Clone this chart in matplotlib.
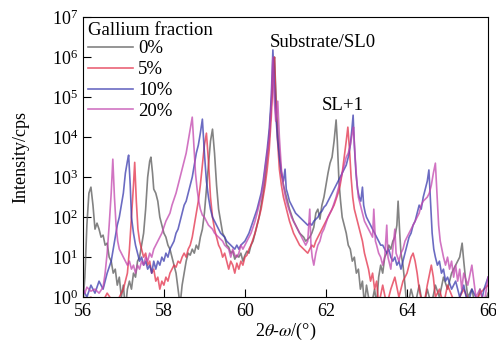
import matplotlib
matplotlib.use("Agg")
import matplotlib.pyplot as plt
import numpy as np

plt.rcParams['font.family'] = ['Liberation Serif', 'DejaVu Serif']
plt.rcParams['mathtext.fontset'] = 'stix'

# 2theta positions and log10(intensity), one pair of lists per sample
x0 = [56.00, 56.05, 56.10, 56.15, 56.20, 56.25, 56.30, 56.35, 56.40, 56.45, 56.50, 56.55, 56.60, 56.65, 56.70,
      56.75, 56.80, 56.85, 56.90, 56.95, 57.00, 57.05, 57.10, 57.15, 57.20, 57.25, 57.30, 57.35, 57.40, 57.45,
      57.50, 57.55, 57.60, 57.65, 57.68, 57.72, 57.75, 57.80, 57.85, 57.90, 57.95, 58.00, 58.05, 58.10, 58.15,
      58.20, 58.25, 58.30, 58.35, 58.40, 58.45, 58.50, 58.55, 58.60, 58.65, 58.70, 58.75, 58.80, 58.85, 58.90,
      58.95, 59.00, 59.05, 59.10, 59.15, 59.20, 59.25, 59.30, 59.35, 59.40, 59.45, 59.50, 59.55, 59.60, 59.65,
      59.70, 59.75, 59.80, 59.85, 59.90, 59.95, 60.00, 60.05, 60.10, 60.15, 60.20, 60.25, 60.30, 60.35, 60.40,
      60.45, 60.50, 60.55, 60.60, 60.65, 60.70, 60.73, 60.76, 60.80, 60.85, 60.90, 60.95, 61.00, 61.05, 61.10,
      61.15, 61.20, 61.25, 61.30, 61.35, 61.40, 61.45, 61.50, 61.55, 61.60, 61.65, 61.70, 61.75, 61.80, 61.85,
      61.90, 61.95, 62.00, 62.05, 62.10, 62.15, 62.20, 62.25, 62.28, 62.32, 62.36, 62.40, 62.45, 62.50, 62.55,
      62.60, 62.65, 62.70, 62.75, 62.80, 62.85, 62.90, 62.95, 63.00, 63.05, 63.10, 63.20, 63.25, 63.30, 63.35,
      63.40, 63.45, 63.50, 63.55, 63.60, 63.65, 63.70, 63.75, 63.78, 63.82, 63.85, 63.90, 63.95, 64.00, 64.10,
      64.20, 64.30, 64.40, 64.50, 64.60, 64.70, 64.80, 64.90, 65.00, 65.10, 65.20, 65.30, 65.36, 65.40, 65.45,
      65.50, 65.60, 65.70, 65.80, 65.90, 66.00]
y0 = [-0.2, 0.5, 1.8, 2.6, 2.75, 2.3, 1.7, 1.85, 1.7, 1.5, 1.55, 1.3, 1.35, 1.0, 0.9,
      0.6, 0.7, 0.3, 0.5, 0.0, 0.3, -0.3, 0.2, 0.4, 0.2, 0.6, 0.5, 0.9, 1.0, 1.3,
      1.6, 2.2, 3.0, 3.4, 3.5, 3.1, 2.7, 2.6, 2.4, 2.0, 1.8, 1.6, 1.5, 1.3, 1.2,
      1.0, 0.8, 0.6, 0.2, -0.2, 0.3, 0.6, 0.9, 1.1, 1.05, 1.2, 1.1, 1.3, 1.2, 1.5,
      1.7, 2.1, 2.7, 3.3, 3.9, 4.2, 3.6, 2.8, 2.2, 1.9, 1.6, 1.5, 1.3, 1.25, 1.1,
      1.15, 0.95, 1.05, 1.0, 1.1, 0.9, 1.05, 1.15, 1.1, 1.3, 1.4, 1.6, 1.8, 2.0, 2.3,
      2.6, 3.0, 3.5, 4.0, 4.8, 5.8, 6.0, 5.2, 4.3, 3.6, 3.1, 2.8, 2.6, 2.4, 2.2,
      2.05, 1.9, 1.8, 1.7, 1.6, 1.55, 1.5, 1.4, 1.45, 1.5, 1.6, 1.75, 2.1, 2.2, 1.95,
      2.3, 2.5, 2.8, 3.1, 3.35, 3.5, 3.9, 4.43, 3.9, 2.9, 2.4, 2.0, 1.8, 1.6, 1.3,
      1.2, 0.9, 1.0, 0.6, 0.7, 0.2, 0.4, -0.2, 0.3, 0.0, -0.3, 0.2, -0.2, 0.5, 0.8,
      0.6, 1.0, 1.1, 1.3, 1.2, 1.4, 1.5, 1.8, 2.4, 1.6, 1.1, 0.8, 0.3, -0.3, 0.2,
      -0.2, 0.3, -0.3, 0.2, -0.2, 0.3, 0.0, 0.5, 0.2, 0.6, 0.8, 1.0, 1.35, 0.9, 0.4,
      0.0, 0.2, -0.3, 0.2, -0.2, 0.1]

x5 = [56.00, 56.20, 56.40, 56.60, 56.80, 57.00, 57.10, 57.15, 57.20, 57.25, 57.28, 57.32, 57.36, 57.40, 57.45,
      57.50, 57.55, 57.60, 57.65, 57.70, 57.75, 57.80, 57.85, 57.90, 57.95, 58.00, 58.05, 58.10, 58.15, 58.20,
      58.25, 58.30, 58.35, 58.40, 58.45, 58.50, 58.55, 58.60, 58.65, 58.70, 58.75, 58.80, 58.85, 58.90, 58.95,
      59.00, 59.05, 59.10, 59.15, 59.20, 59.25, 59.30, 59.35, 59.40, 59.45, 59.50, 59.55, 59.60, 59.65, 59.70,
      59.75, 59.80, 59.85, 59.90, 59.95, 60.00, 60.05, 60.10, 60.15, 60.20, 60.25, 60.30, 60.35, 60.40, 60.45,
      60.50, 60.55, 60.60, 60.65, 60.70, 60.73, 60.76, 60.80, 60.85, 60.90, 60.95, 61.00, 61.05, 61.10, 61.15,
      61.20, 61.25, 61.30, 61.35, 61.40, 61.45, 61.50, 61.55, 61.60, 61.65, 61.70, 61.75, 61.80, 61.85, 61.90,
      61.95, 62.00, 62.05, 62.10, 62.15, 62.20, 62.25, 62.30, 62.35, 62.40, 62.45, 62.50, 62.54, 62.58, 62.62,
      62.66, 62.70, 62.75, 62.80, 62.85, 62.90, 62.95, 63.00, 63.05, 63.10, 63.15, 63.20, 63.25, 63.30, 63.40,
      63.50, 63.60, 63.70, 63.80, 63.90, 64.00, 64.05, 64.10, 64.15, 64.20, 64.25, 64.30, 64.40, 64.50, 64.60,
      64.65, 64.70, 64.80, 64.90, 65.00, 65.20, 65.40, 65.60, 65.80, 66.00]
y5 = [-0.2, 0.0, -0.3, 0.1, -0.2, 0.2, 0.6, 1.2, 2.0, 2.8, 3.37, 2.4, 1.7, 1.4, 1.2,
      1.0, 1.1, 0.8, 0.9, 0.6, 0.7, 0.4, 0.5, 0.2, 0.4, 0.3, 0.5, 0.4, 0.6, 0.7,
      0.8, 0.75, 0.9, 0.85, 1.0, 1.1, 1.0, 1.2, 1.3, 1.5, 1.8, 2.1, 2.4, 2.8, 3.3,
      3.8, 4.1, 3.4, 2.5, 2.0, 1.7, 1.5, 1.3, 1.2, 1.0, 1.1, 0.9, 0.7, 0.9, 0.8,
      0.6, 0.85, 0.7, 0.9, 0.8, 1.0, 1.05, 1.2, 1.3, 1.45, 1.6, 1.8, 2.0, 2.2, 2.5,
      2.8, 3.2, 3.7, 4.5, 5.6, 6.0, 5.0, 4.0, 3.2, 2.8, 2.5, 2.3, 2.1, 1.9, 1.75,
      1.6, 1.5, 1.4, 1.3, 1.25, 1.2, 1.15, 1.1, 1.2, 1.3, 1.25, 1.4, 1.5, 1.6, 1.7,
      1.8, 1.9, 2.0, 2.1, 2.2, 2.3, 2.45, 2.6, 2.8, 3.1, 3.5, 3.9, 4.25, 3.7, 3.0,
      2.5, 2.2, 2.0, 1.8, 1.6, 1.4, 1.1, 0.9, 0.7, 0.4, 0.6, 0.2, 0.4, -0.2, 0.3,
      -0.2, 0.2, 0.5, 0.0, 0.4, 0.6, 0.8, 1.0, 1.1, 0.9, 0.6, 0.2, -0.3, 0.3, 0.8,
      0.5, 0.0, 0.2, -0.2, 0.3, -0.2, 0.2, -0.3, 0.1, 0.3]

x10 = [56.00, 56.10, 56.20, 56.30, 56.40, 56.50, 56.60, 56.70, 56.75, 56.80, 56.85, 56.90, 56.95, 57.00, 57.05,
       57.10, 57.13, 57.17, 57.20, 57.25, 57.30, 57.35, 57.40, 57.45, 57.50, 57.55, 57.60, 57.65, 57.70, 57.75,
       57.80, 57.85, 57.90, 57.95, 58.00, 58.05, 58.10, 58.15, 58.20, 58.25, 58.30, 58.35, 58.40, 58.45, 58.50,
       58.55, 58.60, 58.65, 58.70, 58.75, 58.80, 58.85, 58.90, 58.95, 59.00, 59.05, 59.10, 59.15, 59.20, 59.25,
       59.30, 59.35, 59.40, 59.45, 59.50, 59.55, 59.60, 59.65, 59.70, 59.75, 59.80, 59.85, 59.90, 59.95, 60.00,
       60.05, 60.10, 60.15, 60.20, 60.25, 60.30, 60.35, 60.40, 60.45, 60.50, 60.55, 60.60, 60.65, 60.69, 60.72,
       60.76, 60.80, 60.85, 60.90, 60.95, 60.99, 61.02, 61.05, 61.10, 61.15, 61.20, 61.25, 61.30, 61.35, 61.40,
       61.45, 61.50, 61.55, 61.60, 61.65, 61.70, 61.75, 61.80, 61.85, 61.90, 61.95, 62.00, 62.05, 62.10, 62.15,
       62.20, 62.25, 62.30, 62.35, 62.40, 62.45, 62.50, 62.55, 62.60, 62.64, 62.67, 62.70, 62.74, 62.78, 62.82,
       62.86, 62.90, 62.93, 62.97, 63.00, 63.05, 63.10, 63.15, 63.20, 63.25, 63.30, 63.35, 63.40, 63.45, 63.50,
       63.55, 63.60, 63.65, 63.70, 63.75, 63.80, 63.85, 63.90, 63.95, 64.00, 64.05, 64.10, 64.15, 64.20, 64.25,
       64.30, 64.35, 64.40, 64.45, 64.50, 64.54, 64.58, 64.62, 64.66, 64.70, 64.75, 64.80, 64.85, 64.90, 64.95,
       65.00, 65.10, 65.20, 65.30, 65.40, 65.50, 65.60, 65.70, 65.80, 65.90, 66.00]
y10 = [0.2, 0.0, 0.3, 0.1, 0.4, 0.2, 0.6, 0.9, 1.2, 1.5, 1.8, 2.0, 2.3, 2.6, 3.1,
       3.4, 3.55, 2.8, 2.0, 1.6, 1.3, 1.1, 0.9, 1.0, 0.8, 0.9, 0.7, 0.8, 0.6, 0.9,
       0.7, 0.9, 0.8, 1.0, 0.9, 1.1, 1.0, 1.2, 1.3, 1.4, 1.6, 1.7, 1.9, 2.1, 2.3,
       2.4, 2.6, 2.8, 3.0, 3.3, 3.6, 3.8, 4.1, 4.45, 3.6, 2.9, 2.5, 2.2, 2.0, 1.9,
       1.8, 1.7, 1.6, 1.55, 1.5, 1.4, 1.35, 1.3, 1.25, 1.2, 1.3, 1.2, 1.3, 1.35, 1.4,
       1.5, 1.6, 1.75, 1.9, 2.05, 2.2, 2.4, 2.6, 2.9, 3.3, 3.7, 4.2, 5.0, 6.18, 5.4,
       4.6, 4.0, 3.5, 3.1, 2.9, 3.2, 2.7, 2.6, 2.4, 2.3, 2.2, 2.1, 2.05, 2.0, 1.95,
       1.9, 1.85, 1.8, 1.85, 1.8, 1.9, 1.95, 2.0, 2.1, 2.15, 2.25, 2.3, 2.4, 2.5, 2.6,
       2.7, 2.8, 2.9, 3.0, 3.1, 3.2, 3.3, 3.5, 3.8, 4.2, 4.55, 3.8, 3.1, 2.7, 2.5,
       2.4, 2.75, 2.3, 2.1, 2.0, 1.9, 1.8, 1.7, 1.6, 1.5, 1.4, 1.3, 1.3, 1.2, 1.1,
       1.2, 1.0, 0.9, 1.0, 0.8, 0.9, 0.7, 0.9, 1.1, 1.3, 1.5, 1.6, 1.8, 1.9, 2.1,
       2.3, 2.2, 2.5, 2.7, 2.9, 3.18, 2.4, 1.6, 1.2, 1.0, 0.8, 0.9, 0.6, 0.7, 0.4,
       0.5, 0.2, 0.4, 0.0, 0.3, -0.2, 0.2, 0.0, -0.3, 0.2, 0.5]

x20 = [56.00, 56.05, 56.10, 56.20, 56.30, 56.40, 56.50, 56.55, 56.60, 56.65, 56.70, 56.74, 56.78, 56.82, 56.86,
       56.90, 56.95, 57.00, 57.05, 57.10, 57.15, 57.20, 57.25, 57.30, 57.35, 57.40, 57.45, 57.50, 57.55, 57.60,
       57.65, 57.70, 57.75, 57.80, 57.85, 57.90, 57.95, 58.00, 58.05, 58.10, 58.15, 58.20, 58.25, 58.30, 58.35,
       58.40, 58.45, 58.50, 58.55, 58.60, 58.65, 58.70, 58.74, 58.78, 58.82, 58.86, 58.90, 58.95, 59.00, 59.05,
       59.10, 59.15, 59.20, 59.25, 59.30, 59.35, 59.40, 59.45, 59.50, 59.55, 59.60, 59.65, 59.70, 59.75, 59.80,
       59.85, 59.90, 59.95, 60.00, 60.05, 60.10, 60.15, 60.20, 60.25, 60.30, 60.35, 60.40, 60.45, 60.50, 60.55,
       60.60, 60.65, 60.69, 60.72, 60.76, 60.81, 60.85, 60.90, 60.95, 61.00, 61.05, 61.10, 61.15, 61.20, 61.25,
       61.30, 61.35, 61.40, 61.45, 61.50, 61.55, 61.60, 61.63, 61.66, 61.70, 61.75, 61.80, 61.85, 61.90, 61.95,
       62.00, 62.05, 62.10, 62.15, 62.20, 62.25, 62.30, 62.35, 62.40, 62.45, 62.50, 62.55, 62.60, 62.65, 62.68,
       62.72, 62.76, 62.80, 62.85, 62.90, 62.95, 63.00, 63.05, 63.10, 63.15, 63.18, 63.22, 63.25, 63.30, 63.35,
       63.40, 63.45, 63.50, 63.53, 63.60, 63.65, 63.70, 63.73, 63.80, 63.85, 63.90, 63.95, 64.00, 64.05, 64.10,
       64.15, 64.20, 64.25, 64.30, 64.35, 64.40, 64.45, 64.50, 64.55, 64.60, 64.65, 64.70, 64.74, 64.78, 64.82,
       64.86, 64.90, 64.95, 65.00, 65.05, 65.10, 65.15, 65.20, 65.25, 65.30, 65.35, 65.40, 65.50, 65.60, 65.65,
       65.70, 65.80, 65.90, 66.00]
y20 = [0.2, 0.1, 0.25, 0.15, 0.2, 0.1, 0.25, 0.6, 1.1, 1.8, 2.6, 3.45, 2.5, 1.8, 1.4,
       1.2, 1.1, 1.0, 0.9, 0.8, 0.9, 0.7, 0.8, 0.6, 0.8, 0.7, 0.9, 0.8, 1.0, 0.9,
       1.1, 1.0, 1.2, 1.3, 1.4, 1.5, 1.6, 1.75, 1.9, 2.0, 2.1, 2.3, 2.45, 2.6, 2.8,
       3.0, 3.2, 3.4, 3.6, 3.9, 4.2, 4.5, 3.8, 3.1, 2.7, 2.4, 2.2, 2.05, 2.0, 1.9,
       1.8, 1.75, 1.7, 1.6, 1.55, 1.5, 1.45, 1.4, 1.3, 1.25, 1.2, 1.0, 1.2, 1.05, 1.0,
       1.1, 1.3, 1.2, 1.3, 1.4, 1.5, 1.6, 1.75, 1.9, 2.1, 2.3, 2.5, 2.8, 3.2, 3.6,
       4.0, 4.8, 6.0, 5.0, 4.4, 4.9, 4.0, 3.2, 2.8, 2.5, 2.3, 2.15, 2.0, 1.9, 1.8,
       1.7, 1.6, 1.5, 1.4, 1.3, 1.4, 2.2, 1.3, 1.0, 0.8, 1.1, 1.3, 1.4, 1.6, 1.7,
       1.85, 2.0, 2.1, 2.2, 2.35, 2.5, 2.7, 2.9, 3.1, 3.3, 3.5, 3.6, 3.8, 4.1, 4.25,
       3.5, 2.9, 2.5, 2.3, 2.1, 1.9, 1.8, 1.7, 1.6, 1.5, 2.2, 1.4, 1.3, 1.1, 1.0,
       0.8, 1.0, 1.8, 1.0, 0.7, 1.2, 1.7, 1.1, 0.9, 1.1, 1.2, 1.4, 1.5, 1.6, 1.7,
       1.8, 1.9, 2.0, 2.1, 2.3, 2.4, 2.45, 2.5, 2.6, 2.8, 3.1, 3.35, 2.6, 1.8, 1.4,
       1.2, 1.0, 0.8, 1.0, 0.7, 0.9, 0.5, 0.8, 0.4, 0.7, 0.2, 0.6, 0.3, 0.8, 0.4,
       0.0, 0.2, -0.2, 0.5]

labels = ['0%', '5%', '10%', '20%']
colors = ['#5a5a5a', '#e3304a', '#3a3aae', '#c246ae']

fig = plt.figure(figsize=(4.96, 3.5), dpi=100)
ax = fig.add_axes([0.167, 0.151, 0.817, 0.80])

for xs, ys, lab, c in zip([x0, x5, x10, x20], [y0, y5, y10, y20], labels, colors):
    ax.plot(xs, 10 ** np.array(ys), color=c, lw=1.2, alpha=0.75, label=lab)

ax.set_yscale('log')
ax.set_xlim(56, 66)
ax.set_ylim(1, 1e7)
ax.set_xticks([56, 58, 60, 62, 64, 66])
ax.set_yticks([10 ** k for k in range(8)])
ax.tick_params(axis='both', which='major', direction='in', length=6, labelsize=13)
ax.tick_params(axis='y', which='minor', direction='in', length=4)
ax.tick_params(axis='x', pad=4)

ax.set_xlabel(r'2$\theta$-$\omega$/(°)', fontsize=13, labelpad=1)
ax.set_ylabel('Intensity/cps', fontsize=13, labelpad=16)

ax.text(60.62, 10 ** 6.25, 'Substrate/SL0', fontsize=13.5)
ax.text(61.9, 10 ** 4.68, 'SL+1', fontsize=13.5)

leg = ax.legend(title='Gallium fraction', loc='upper left', frameon=False, fontsize=13.5,
                title_fontsize=13.5, handlelength=2.4, labelspacing=0.2, handletextpad=0.3,
                borderaxespad=0.1, borderpad=0.15)
leg._legend_box.align = 'left'
leg._legend_box.sep = 1

fig.savefig('out.png', dpi=100)
